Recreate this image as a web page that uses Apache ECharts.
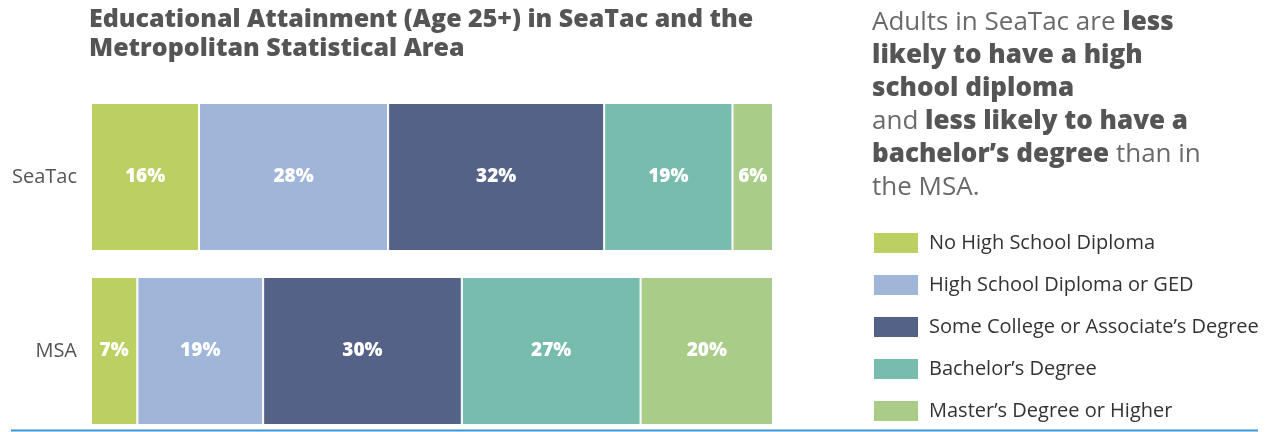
<!DOCTYPE html>
<html>
<head>
<meta charset="utf-8">
<script src="https://cdn.jsdelivr.net/npm/echarts@6/dist/echarts.min.js"></script>
<style>html,body{margin:0;padding:0;background:#fff;overflow:hidden;}#c{width:1270px;height:440px;}</style>
</head>
<body>
<div id="c"></div>
<script>
const categories = ['SeaTac', 'MSA'];
const levels = ['No High School Diploma', 'High School Diploma or GED', 'Some College or Associate’s Degree', 'Bachelor’s Degree', 'Master’s Degree or Higher'];
const seatacValues = [16, 28, 32, 19, 6];
const msaValues = [7, 19, 30, 27, 20];
const colors = ['#bccf62', '#9fb6d9', '#546287', '#78bcae', '#a9cc88'];

const sum = a => a.reduce((s, v) => s + v, 0);
const sS = sum(seatacValues), sM = sum(msaValues);

const series = levels.map((name, i) => ({
  name: name,
  type: 'bar',
  stack: 'total',
  barWidth: 148,
  itemStyle: { color: colors[i], borderColor: '#fff', borderWidth: 1 },
  label: {
    show: true, position: 'inside', color: '#fff', fontFamily: 'Open Sans', fontWeight: 800, fontSize: 19,
    formatter: p => (p.dataIndex === 0 ? seatacValues[i] : msaValues[i]) + '%'
  },
  emphasis: { disabled: true },
  data: [seatacValues[i] / sS * 100, msaValues[i] / sM * 100]
}));

const chart = echarts.init(document.getElementById('c'), null, { renderer: 'canvas' });
chart.setOption({
  animation: false,
  backgroundColor: '#fff',
  title: [
    {
      text: 'Educational Attainment (Age 25+) in SeaTac and the\nMetropolitan Statistical Area',
      left: 84, top: 0,
      textStyle: { fontFamily: 'Open Sans', fontWeight: 800, fontSize: 25, color: '#555', lineHeight: 29 }
    },
    {
      text: '{n|Adults in SeaTac are }{b|less}\n{b|likely to have a high}\n{b|school diploma}\n{n|and }{b|less likely to have a}\n{b|bachelor’s degree}{n| than in}\n{n|the MSA.}',
      left: 867, top: 1,
      textStyle: {
        rich: {
          n: { fontFamily: 'Open Sans', fontWeight: 400, fontSize: 26, color: '#6a6a6a', lineHeight: 33 },
          b: { fontFamily: 'Open Sans', fontWeight: 800, fontSize: 26, color: '#555', lineHeight: 33 }
        }
      }
    }
  ],
  legend: {
    orient: 'vertical', left: 867, top: 226, height: 210,
    itemWidth: 46, itemHeight: 22, itemGap: 18, icon: 'rect',
    selectedMode: false,
    textStyle: { fontFamily: 'Open Sans', fontSize: 20, color: '#333', padding: [0, 0, 0, 5] },
    data: levels
  },
  grid: { left: 91, width: 682, top: 90, height: 348, containLabel: false },
  xAxis: { type: 'value', min: 0, max: 100, show: false },
  yAxis: {
    type: 'category', inverse: true, data: categories,
    axisLine: { show: false }, axisTick: { show: false },
    axisLabel: { fontFamily: 'Open Sans', fontSize: 20, color: '#555', margin: 14 }
  },
  graphic: [{
    type: 'line', shape: { x1: 11, y1: 430.5, x2: 1258, y2: 430.5 },
    style: { stroke: '#3a97d4', lineWidth: 2 }
  }],
  series: series
});
</script>
</body>
</html>
